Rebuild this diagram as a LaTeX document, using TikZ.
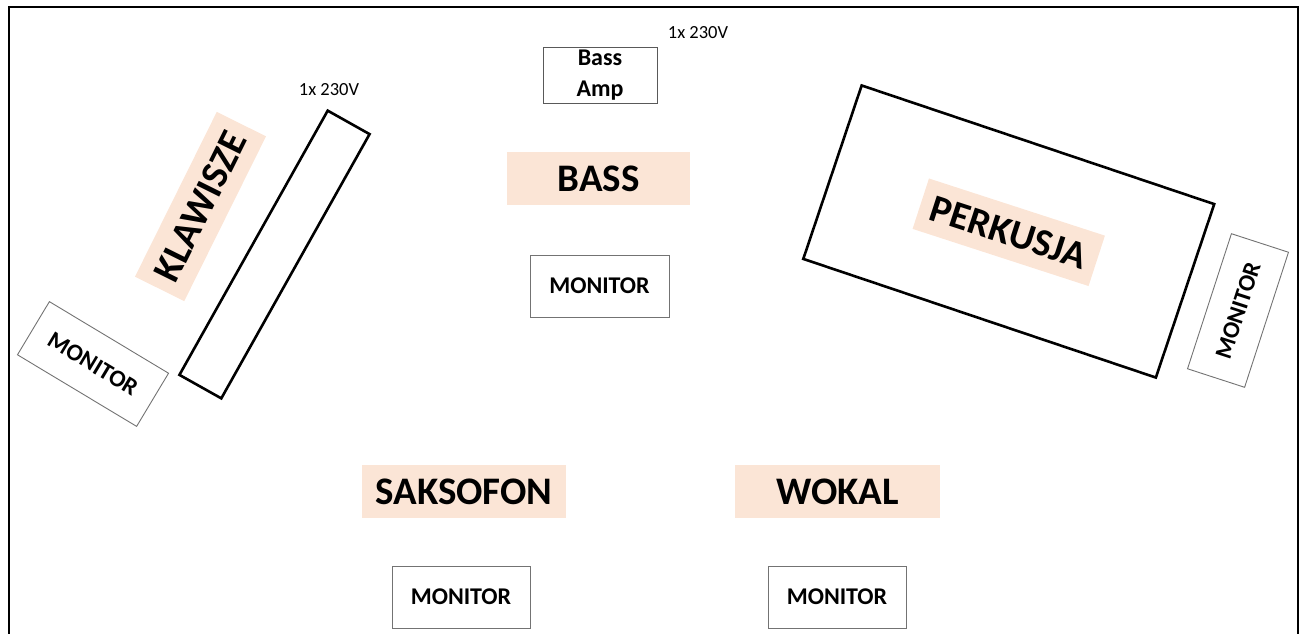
\documentclass[tikz,border=0pt]{standalone}
\usepackage{fontspec}
\setmainfont{Carlito}
\definecolor{peach}{HTML}{FBE5D6}
\begin{document}
\begin{tikzpicture}[x=1pt,y=-1pt,
  lbl/.style={fill=peach, font=\bfseries\fontsize{39}{47}\selectfont, inner sep=0pt},
  mon/.style={draw=black!55, line width=0.9pt, font=\bfseries\fontsize{24}{29}\selectfont,
              minimum width=139pt, minimum height=62pt, inner sep=0pt},
  instr/.style={draw, line width=2.6pt, inner sep=0pt},
  pw/.style={font=\fontsize{18.5}{22}\selectfont, inner sep=0pt}]
\useasboundingbox (0,0) rectangle (1305,633);
\clip (0,0) rectangle (1305,633);
\draw[line width=2pt] (9,7) rectangle (1298,660);

% bass
\node[draw=black!65, line width=0.9pt, minimum width=114pt, minimum height=56pt, inner sep=0pt,
      align=center, font=\bfseries\fontsize{24}{31}\selectfont] (amp) at (600,75) {Bass\\Amp};
\node[pw] (pw1) at (698,33) {1x 230V};
\node[lbl, minimum width=183pt, minimum height=53pt] (bass) at (598.5,178.5) {BASS};
\node[mon] (monbass) at (599.5,286) {MONITOR};

% keys
\node[pw] (pw2) at (329,90) {1x 230V};
\node[instr, minimum width=303pt, minimum height=48pt, rotate=60.7] (keys) at (274.5,254.5) {};
\node[lbl, minimum width=184pt, minimum height=55pt, rotate=63.6] (klaw) at (200.5,206.5) {KLAWISZE};
\node[mon, rotate=-31] (monkeys) at (93,364) {MONITOR};

% drums
\node[instr, minimum width=372pt, minimum height=183pt, rotate=-18.6] (drums) at (1008.75,231.5) {};
\node[lbl, minimum width=185pt, minimum height=53pt, rotate=-18] (perk) at (1008.75,232.25) {PERKUSJA};
\node[mon, minimum width=142pt, minimum height=60pt, rotate=72] (mondrums) at (1238,310.5) {MONITOR};

% front
\node[lbl, minimum width=204pt, minimum height=53pt] (sax) at (464,491.5) {SAKSOFON};
\node[lbl, minimum width=205pt, minimum height=53pt] (wokal) at (837.5,491.5) {WOKAL};
\node[mon, minimum width=138pt] (monsax) at (461,597) {MONITOR};
\node[mon, minimum width=138pt] (monwok) at (837,597) {MONITOR};
\end{tikzpicture}
\end{document}
